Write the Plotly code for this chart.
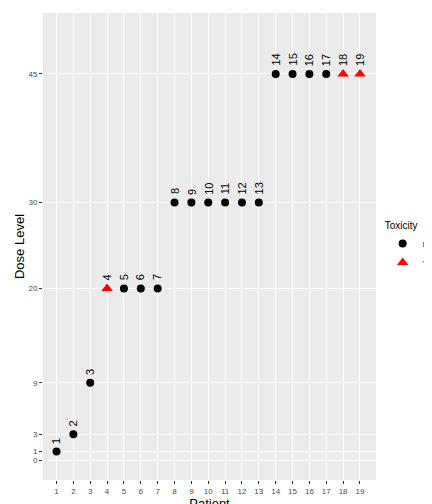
import plotly.graph_objects as go

patient = list(range(1, 20))
dose = [1, 3, 9, 20, 20, 20, 20, 30, 30, 30, 30, 30, 30, 45, 45, 45, 45, 45, 45]
toxicity = ["No", "No", "No", "Yes", "No", "No", "No", "No", "No", "No",
            "No", "No", "No", "No", "No", "No", "No", "Yes", "Yes"]
y_ticks = [0, 1, 3, 9, 20, 30, 45]

styles = {"No": dict(color="black", symbol="circle", size=8),
          "Yes": dict(color="red", symbol="triangle-up", size=10)}

fig = go.Figure()
for grp in ["No", "Yes"]:
    xs = [p for p, t in zip(patient, toxicity) if t == grp]
    ys = [d for d, t in zip(dose, toxicity) if t == grp]
    fig.add_trace(go.Scatter(x=xs, y=ys, mode="markers", name=grp,
                             marker=styles[grp]))

for p, d in zip(patient, dose):
    fig.add_annotation(x=p, y=d, text=str(p), textangle=-90, showarrow=False,
                       yanchor="bottom", yshift=6,
                       font=dict(size=11, color="black"))

fig.update_layout(
    width=432, height=504,
    margin=dict(l=35, r=64, t=5, b=32, autoexpand=False),
    paper_bgcolor="white", plot_bgcolor="#EBEBEB",
    font=dict(family="Liberation Sans, Arial", size=11, color="black"),
    legend=dict(title=dict(text="Toxicity"), x=1.02, xanchor="left",
                y=0.5, yanchor="middle", itemwidth=30,
                font=dict(size=8)),
    xaxis=dict(title=dict(text="Patient", standoff=0), range=[0.2, 19.95],
               tickvals=patient, tickfont=dict(size=8, color="#4D4D4D"),
               gridcolor="white", zeroline=False, ticks="outside",
               tickcolor="#333333", ticklen=3, automargin=False),
    yaxis=dict(title=dict(text="Dose Level", standoff=0), range=[-2.33, 52.1],
               tickvals=y_ticks, tickfont=dict(size=8, color="#4D4D4D"),
               gridcolor="white", zeroline=False, ticks="outside",
               tickcolor="#333333", ticklen=3, automargin=False),
)

fig.write_html("out.html")
